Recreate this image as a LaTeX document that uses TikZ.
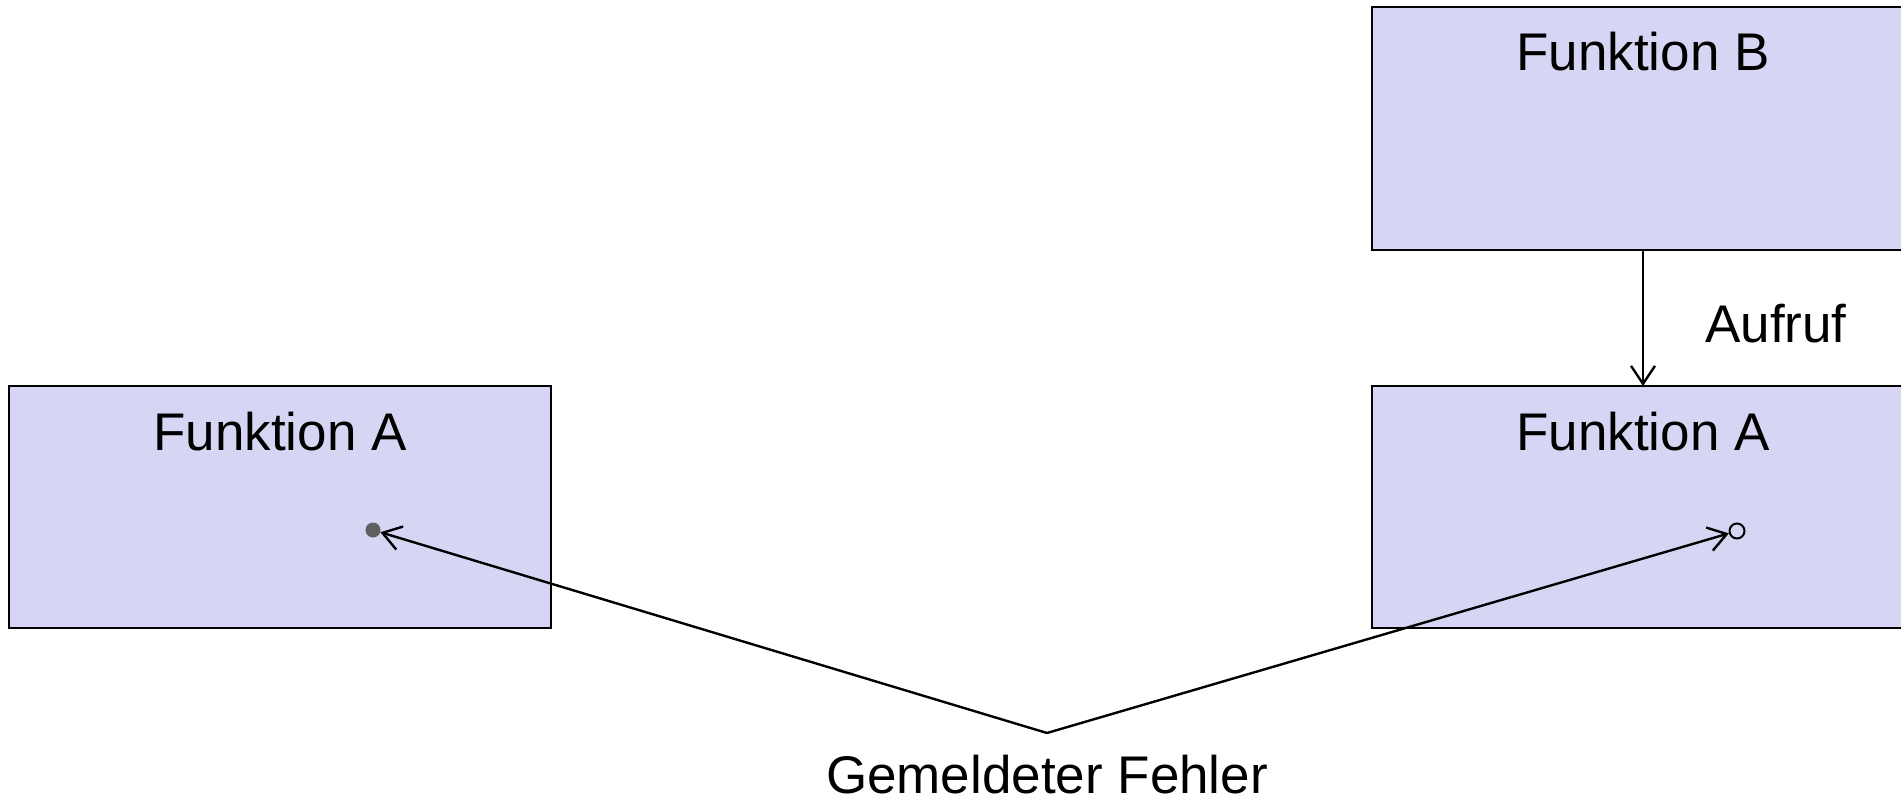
\documentclass[tikz,border=0pt]{standalone}
\usepackage{fontspec}
\setmainfont{Liberation Sans}
\usetikzlibrary{arrows.meta}
\definecolor{boxfill}{RGB}{214,214,244}
\definecolor{dotgray}{RGB}{96,96,96}
\tikzset{
  funcbox/.style={draw=black, line width=2pt, fill=boxfill, minimum width=542pt, minimum height=242pt, inner sep=0pt, outer sep=0pt},
  title/.style={anchor=base, font=\fontsize{53}{62}\selectfont, inner sep=0pt},
  lbl/.style={font=\fontsize{53}{62}\selectfont, inner sep=0pt},
  conn/.style={line width=2.4pt, -{Straight Barb[length=18pt, width=24pt, line width=2.4pt]}},
  errdot/.style={circle, fill=dotgray, minimum size=15pt, inner sep=0pt},
  okdot/.style={circle, draw=black, line width=2pt, fill=boxfill, minimum size=15pt, inner sep=0pt},
}
\begin{document}
\begin{tikzpicture}[x=1pt, y=-1pt]
  \useasboundingbox (0,0) rectangle (1901,800);
  \clip (0,0) rectangle (1901,800);
  \fill[white] (0,0) rectangle (1901,800);

  % boxes
  \node[funcbox] (leftA) at (280,507) {};
  \node[funcbox] (fnB) at (1643,128.5) {};
  \node[funcbox] (rightA) at (1643,507) {};

  % titles
  \node[title] (tleftA) at ([yshift=-64pt]leftA.north) {Funktion A};
  \node[title] (tB) at ([yshift=-63pt]fnB.north) {Funktion B};
  \node[title] (trightA) at ([yshift=-64pt]rightA.north) {Funktion A};

  % call from B to A
  \draw[conn] (fnB.south) -- (rightA.north);
  \node[lbl] (aufruf) at (1776,324) {Aufruf};

  % reported error markers
  \node[errdot] (err) at (373,530) {};
  \node[okdot] (ok) at (1737,531) {};
  \coordinate (apex) at (1047,733);
  \draw[conn] (apex) -- (err);
  \draw[conn] (apex) -- (ok);
  \node[lbl] (fehler) at (1047,775) {Gemeldeter Fehler};
\end{tikzpicture}
\end{document}
